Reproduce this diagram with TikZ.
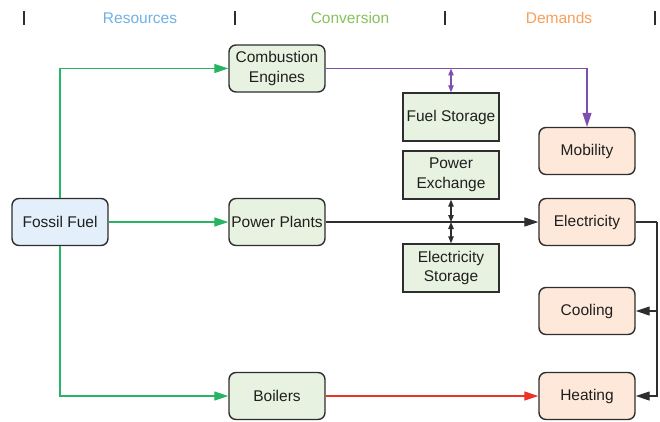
\documentclass[tikz,border=0pt]{standalone}
\usepackage{fontspec}
\setmainfont{Liberation Sans}
\usetikzlibrary{arrows.meta,calc}
\definecolor{bdr}{HTML}{2E2E2E}
\definecolor{fillblue}{HTML}{E3EFFA}
\definecolor{fillgreen}{HTML}{E7F2E0}
\definecolor{fillorange}{HTML}{FDE8DA}
\definecolor{lgreen}{HTML}{27B463}
\definecolor{lpurple}{HTML}{7E50AE}
\definecolor{lred}{HTML}{EC3326}
\definecolor{hblue}{HTML}{6FB1E3}
\definecolor{hgreen}{HTML}{86C15E}
\definecolor{horange}{HTML}{F5A05C}
\tikzset{
  base/.style={draw=bdr, line width=1.4pt, align=center, inner sep=0pt,
    minimum width=96pt, minimum height=47pt,
    font=\fontsize{15.5}{19.5}\selectfont, text=black!88},
  res/.style={base, rounded corners=7pt, fill=fillblue},
  conv/.style={base, rounded corners=7pt, fill=fillgreen},
  store/.style={base, fill=fillgreen, minimum height=48pt},
  dem/.style={base, rounded corners=7pt, fill=fillorange},
  conn/.style={line width=1.1pt, -{Triangle[length=14pt,width=9pt]}},
  dbl/.style={line width=1.1pt, {Triangle[length=7pt,width=5.5pt]}-{Triangle[length=7pt,width=5.5pt]}},
  hdr/.style={font=\fontsize{15.5}{19}\selectfont},
  bar/.style={line width=1.2pt, draw=bdr}
}
\begin{document}
\begin{tikzpicture}[x=1pt,y=-1pt]
\useasboundingbox (0,0) rectangle (660,422);
% header
\node[hdr, text=hblue] (hR) at (140,18) {Resources};
\node[hdr, text=hgreen] (hC) at (350,18) {Conversion};
\node[hdr, text=horange] (hD) at (559,18) {Demands};
\draw[bar] (24,11) -- (24,25);
\draw[bar] (235,11) -- (235,25);
\draw[bar] (445,11) -- (445,25);
\draw[bar] (655,11) -- (655,25);
% nodes
\node[res] (FF) at (60,222) {Fossil Fuel};
\node[conv] (CE) at (277,68.5) {Combustion\\Engines};
\node[conv] (PP) at (277,222) {Power Plants};
\node[conv] (BO) at (277,396) {Boilers};
\node[store] (FS) at (451,117) {Fuel Storage};
\node[store] (PE) at (451,175) {Power\\Exchange};
\node[store] (ES) at (451,268) {Electricity\\Storage};
\node[dem] (MO) at (587,151) {Mobility};
\node[dem] (EL) at (587,222) {Electricity};
\node[dem] (CO) at (587,311) {Cooling};
\node[dem] (HE) at (587,396) {Heating};
% green connectors
\draw[conn, lgreen] (FF.north) |- (CE.west);
\draw[conn, lgreen] (FF.east) -- (PP.west);
\draw[conn, lgreen] (FF.south) |- (BO.west);
% purple
\coordinate (pj) at (FS.north |- CE.east);
\draw[conn, lpurple] (CE.east) -| (MO.north);
\draw[dbl, lpurple] (pj) -- (FS.north);
% black
\coordinate (ej) at (PE.south |- PP.east);
\draw[conn, bdr] (PP.east) -- (EL.west);
\draw[dbl, bdr] (PE.south) -- (ej);
\draw[dbl, bdr] (ej) -- (ES.north);
\coordinate (rr) at (657,222);
\draw[line width=1.1pt, bdr] (EL.east) -- (rr);
\draw[conn, bdr] (rr) |- (HE.east);
\draw[conn, bdr] (rr |- CO.east) -- (CO.east);
% red
\draw[conn, lred] (BO.east) -- (HE.west);
\end{tikzpicture}
\end{document}
